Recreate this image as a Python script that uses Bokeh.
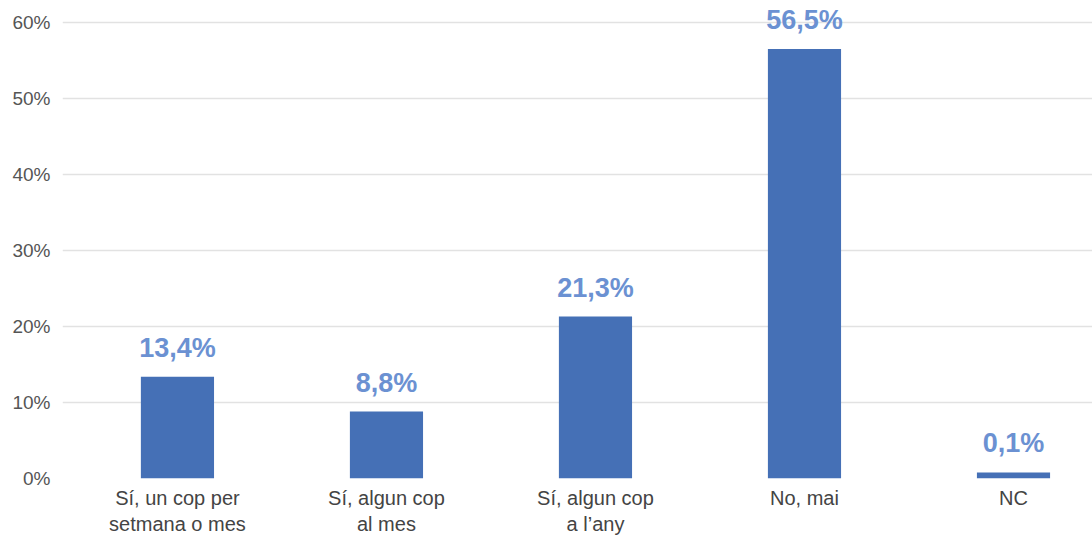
from bokeh.plotting import figure
from bokeh.models import ColumnDataSource, Range1d, FixedTicker
from bokeh.embed import file_html
from bokeh.resources import INLINE
from bokeh.core.properties import value

categories = ["Sí, un cop per\nsetmana o mes", "Sí, algun cop\nal mes", "Sí, algun cop\na l’any", "No, mai", "NC"]
values = [13.4, 8.8, 21.3, 56.5, 0.1]
labels = ["13,4%", "8,8%", "21,3%", "56,5%", "0,1%"]
y_ticks = [0, 10, 20, 30, 40, 50, 60]

MIN_BAR = 0.8  # minimum visible bar height (style)
xs = list(range(len(categories)))
tops = [max(v, MIN_BAR) for v in values]
src = ColumnDataSource(dict(x=xs, top=tops, val=values, lab=labels))

p = figure(width=1092, height=537, output_backend="svg", toolbar_location=None,
           x_range=Range1d(-0.55, 4.378), y_range=Range1d(0, 62.89),
           min_border_left=62, min_border_right=0, min_border_top=0, min_border_bottom=59)
p.outline_line_color = None
p.background_fill_color = "white"
p.border_fill_color = "white"

p.vbar(x="x", top="top", width=0.35, source=src, fill_color="#4570B6", line_color=None)
p.text(x="x", y="top", text="lab", source=src, text_align="center", text_baseline="alphabetic",
       y_offset=-29, text_font=value("Liberation Sans"), text_font_style="bold",
       text_font_size="27px", text_color="#6B91D2")

p.xgrid.grid_line_color = None
p.ygrid.grid_line_color = "#e2e2e2"
p.ygrid.grid_line_width = 1.5
p.yaxis.ticker = FixedTicker(ticks=y_ticks)
p.yaxis.major_label_overrides = {t: f"{t}%" for t in y_ticks}
p.yaxis.axis_line_color = None
p.yaxis.major_tick_line_color = None
p.yaxis.major_tick_out = 0
p.yaxis.major_tick_in = 0
p.yaxis.minor_tick_line_color = None
p.yaxis.major_label_standoff = 12
p.yaxis.major_label_text_font = "Liberation Sans"
p.yaxis.major_label_text_font_size = "19px"
p.yaxis.major_label_text_color = "#555555"

p.xaxis.ticker = FixedTicker(ticks=xs)
p.xaxis.major_label_overrides = {i: c for i, c in enumerate(categories)}
p.xaxis.axis_line_color = None
p.xaxis.major_tick_line_color = None
p.xaxis.major_tick_out = 0
p.xaxis.major_tick_in = 0
p.xaxis.minor_tick_line_color = None
p.xaxis.major_label_standoff = 8
p.xaxis.major_label_text_font = "Liberation Sans"
p.xaxis.major_label_text_font_size = "20px"
p.xaxis.major_label_text_color = "#444444"

open("out.html", "w").write(file_html(p, INLINE))
